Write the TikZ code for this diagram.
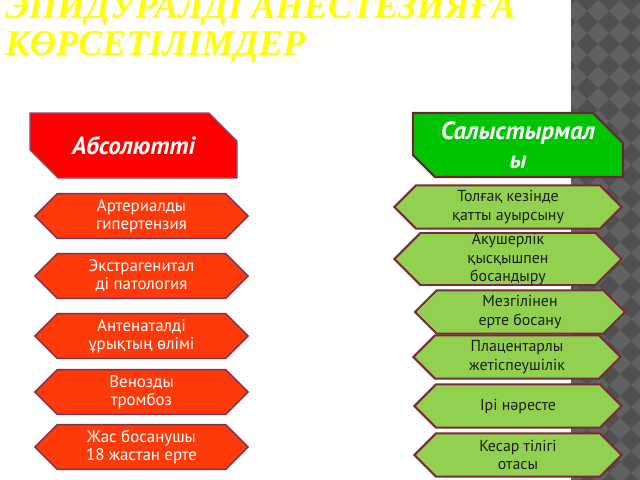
\documentclass[tikz,border=0pt]{standalone}
\usepackage{fontspec}
\setmainfont{PT Sans}
\newfontfamily\titlefont{Liberation Serif}
\usetikzlibrary{shapes.symbols}
\definecolor{titleyellow}{HTML}{FFFF00}
\definecolor{absfill}{HTML}{FF0000}
\definecolor{absline}{HTML}{8E4A73}
\definecolor{relfill}{HTML}{00C400}
\definecolor{relline}{HTML}{6B2737}
\definecolor{leftfill}{HTML}{FF3A0A}
\definecolor{leftline}{HTML}{7D3050}
\definecolor{rightfill}{HTML}{92D050}
\definecolor{rightline}{HTML}{7A2B3A}
\definecolor{righttext}{HTML}{1E1E1E}
\definecolor{stripedark}{HTML}{505050}
\definecolor{stripelight}{HTML}{616161}
\tikzset{
  lefthex/.style={signal, signal to=east and west, signal pointer angle=90,
    draw=leftline, fill=leftfill, line width=1pt, text=white,
    minimum width=5.33cm, minimum height=1.12cm, inner sep=0pt, align=center,
    font=\fontsize{12}{12.8}\selectfont},
  righthex/.style={lefthex, draw=rightline, fill=rightfill, line width=1.4pt,
    text=righttext, minimum height=1.08cm, font=\fontsize{11.3}{13.1}\selectfont},
  headtext/.style={inner sep=0pt, align=center, text=white,
    font=\fontsize{17.7}{20.5}\selectfont\bfseries\itshape},
  titletext/.style={anchor=base west, inner sep=0pt, text=titleyellow,
    font=\titlefont\bfseries\itshape\fontsize{25.8}{26}\selectfont}
}
\begin{document}
\begin{tikzpicture}[x=0.025cm,y=-0.025cm]
\useasboundingbox[fill=white] (0,0) rectangle (640,480);
\begin{scope}
  \clip (571,0) rectangle (640,480);
  \fill[stripedark] (571,0) rectangle (640,480);
  \foreach \i in {0,...,3}
    \foreach \j in {0,...,22}
      \fill[stripelight] (576+22*\i,22*\j) -- ++(11,11) -- ++(-11,11) -- ++(-11,-11) -- cycle;
\end{scope}
\node[titletext] (title1) at (5,19) {ЭПИДУРАЛДІ АНЕСТЕЗИЯҒА};
\node[titletext] (title2) at (5,56) {КӨРСЕТІЛІМДЕР};
\draw[draw=absline, fill=absfill, line width=0.8pt] (30,113) -- (209,113) -- (237,141) -- (237,178) -- (58,178) -- (30,150) -- cycle;
\node[headtext] (abs) at (133.5,145.5) {Абсолютті};
\draw[draw=relline, fill=relfill, line width=1.6pt] (413,113) -- (593,113) -- (623,143) -- (623,177) -- (435,177) -- (413,155) -- cycle;
\node[headtext] (rel) at (518,145) {Салыстырмал\\ы};
\node[lefthex] (l1) at (141.5,216) {Артериалды\\гипертензия};
\node[lefthex] (l2) at (141.5,276) {Экстрагенитал\\ді патология};
\node[lefthex] (l3) at (141.5,336) {Антенаталді\\ұрықтың өлімі};
\node[lefthex] (l4) at (141.5,392) {Венозды\\тромбоз};
\node[lefthex] (l5) at (141.5,447) {Жас босанушы\\18 жастан ерте};
\node[righthex, minimum width=5.68cm] (r1) at (508,207) {Толғақ кезінде\\қатты ауырсыну};
\node[righthex, minimum width=5.68cm, minimum height=1.3cm] (r2) at (508,259) {Акушерлік\\қысқышпен\\босандыру};
\node[righthex, minimum width=5.25cm] (r3) at (520,312) {Мезгілінен\\ерте босану};
\node[righthex, minimum width=5.18cm] (r4) at (517,357) {Плацентарлы\\жетіспеушілік};
\node[righthex, minimum width=5.18cm] (r5) at (518,406) {Ірі нәресте};
\node[righthex, minimum width=5.18cm] (r6) at (518,455) {Кесар тілігі\\отасы};
\end{tikzpicture}
\end{document}
